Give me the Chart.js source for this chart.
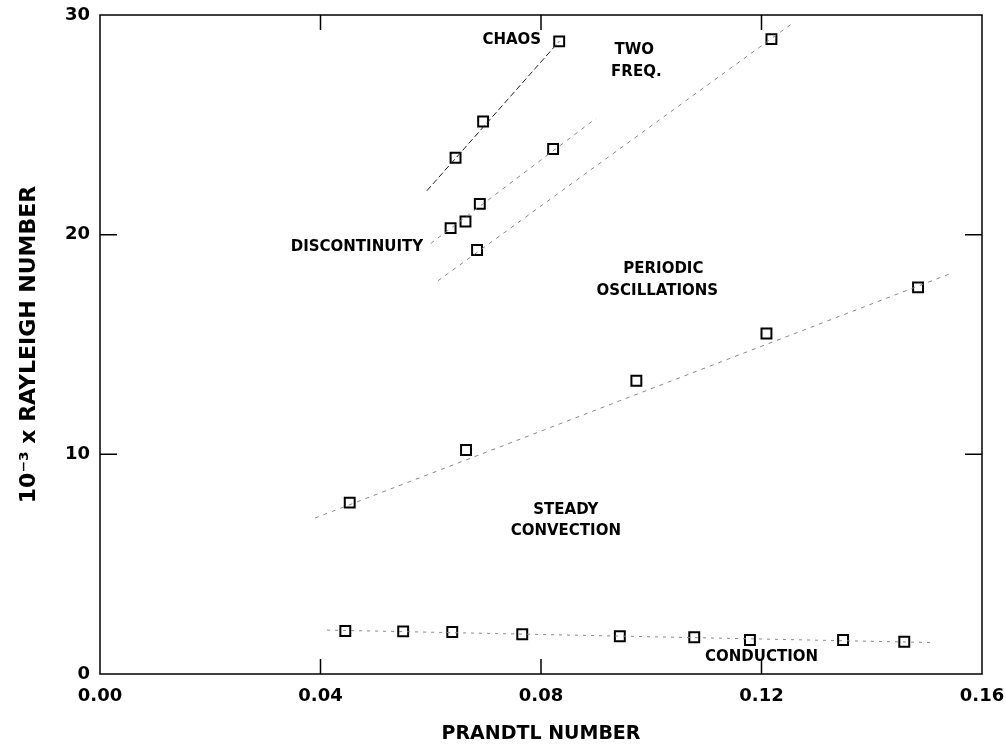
<!DOCTYPE html>
<html>
<head>
<meta charset="utf-8">
<script src="https://cdn.jsdelivr.net/npm/chart.js@4"></script>
<style>
  body { margin: 0; background: #fff; }
</style>
</head>
<body>
<canvas id="myChart" width="1006" height="747"></canvas>
<script>
// measured points (Prandtl number, 10^-3 x Rayleigh number)
let chaosX = [0.0645, 0.0695, 0.0833]
let chaosY = [23.5, 25.15, 28.8]

let discX = [0.0636, 0.0663, 0.0689, 0.0822]
let discY = [20.3, 20.6, 21.4, 23.9]

let twoFreqX = [0.0684, 0.1218]
let twoFreqY = [19.3, 28.9]

let periodicX = [0.0453, 0.0664, 0.0973, 0.1209, 0.1484]
let periodicY = [7.8, 10.2, 13.35, 15.5, 17.6]

let conductionX = [0.0445, 0.0550, 0.0639, 0.0766, 0.0943, 0.1078, 0.1179, 0.1348, 0.1459]
let conductionY = [1.96, 1.94, 1.91, 1.81, 1.72, 1.67, 1.55, 1.55, 1.47]

// ends of the boundary lines drawn through the points
let chaosLineX = [0.0593, 0.0833]
let chaosLineY = [22.0, 28.8]
let discLineX = [0.060, 0.090]
let discLineY = [19.6, 25.3]
let twoFreqLineX = [0.0613, 0.1255]
let twoFreqLineY = [17.9, 29.6]
let periodicLineX = [0.039, 0.154]
let periodicLineY = [7.1, 18.2]
let conductionLineX = [0.0412, 0.1513]
let conductionLineY = [2.0, 1.43]

// region labels
let labelText = ['CHAOS', 'TWO', 'FREQ.', 'DISCONTINUITY', 'PERIODIC', 'OSCILLATIONS', 'STEADY', 'CONVECTION', 'CONDUCTION']
let labelX = [0.0747, 0.0969, 0.0973, 0.0466, 0.1022, 0.1011, 0.0845, 0.0845, 0.1200]
let labelY = [28.84, 28.4, 27.4, 19.45, 18.45, 17.45, 7.47, 6.51, 0.77]

let xTicks = [0.04, 0.08, 0.12]
let yTicks = [10, 20]

let pts = (xs, ys) => xs.map((x, i) => ({ x: x, y: ys[i] }))

let lineSet = (xs, ys, color, dash) => ({
    data: pts(xs, ys),
    showLine: true,
    borderColor: color,
    borderWidth: 1,
    borderDash: dash,
    pointRadius: 0,
    fill: false
})

let markSet = (xs, ys) => ({
    data: pts(xs, ys),
    showLine: false,
    pointStyle: 'rect',
    pointRadius: 7,
    pointBorderWidth: 2,
    pointBorderColor: '#000',
    pointBackgroundColor: '#fff'
})

const tickFont = { family: 'DejaVu Sans', weight: 'bold', size: 18 }

// frame with inward ticks, like the original plot
const framePlugin = {
    id: 'frame',
    afterDraw(chart) {
        const ctx = chart.ctx
        const a = chart.chartArea
        const xs = chart.scales.x
        const ys = chart.scales.y
        ctx.save()
        ctx.strokeStyle = '#000'
        ctx.lineWidth = 1.5
        ctx.strokeRect(a.left, a.top, a.right - a.left, a.bottom - a.top)
        xTicks.forEach(v => {
            let p = xs.getPixelForValue(v)
            ctx.beginPath()
            ctx.moveTo(p, a.bottom); ctx.lineTo(p, a.bottom - 15)
            ctx.moveTo(p, a.top); ctx.lineTo(p, a.top + 15)
            ctx.stroke()
        })
        yTicks.forEach(v => {
            let p = ys.getPixelForValue(v)
            ctx.beginPath()
            ctx.moveTo(a.left, p); ctx.lineTo(a.left + 17, p)
            ctx.moveTo(a.right, p); ctx.lineTo(a.right - 17, p)
            ctx.stroke()
        })
        ctx.restore()
    }
}

const labelPlugin = {
    id: 'regionLabels',
    afterDatasetsDraw(chart) {
        const ctx = chart.ctx
        ctx.save()
        ctx.fillStyle = '#000'
        ctx.font = 'bold 15px "DejaVu Sans"'
        ctx.textAlign = 'center'
        ctx.textBaseline = 'middle'
        labelText.forEach((t, i) => {
            ctx.fillText(t, chart.scales.x.getPixelForValue(labelX[i]), chart.scales.y.getPixelForValue(labelY[i]))
        })
        ctx.restore()
    }
}

const ctx = document.getElementById('myChart')

const config = {
    type: 'scatter',
    data: {
        datasets: [
            lineSet(chaosLineX, chaosLineY, '#222', [6, 3]),
            lineSet(discLineX, discLineY, '#888', [4, 5]),
            lineSet(twoFreqLineX, twoFreqLineY, '#888', [4, 5]),
            lineSet(periodicLineX, periodicLineY, '#888', [4, 5]),
            lineSet(conductionLineX, conductionLineY, '#888', [3, 5]),
            markSet(chaosX, chaosY),
            markSet(discX, discY),
            markSet(twoFreqX, twoFreqY),
            markSet(periodicX, periodicY),
            markSet(conductionX, conductionY)
        ]
    },
    options: {
        responsive: false,
        animation: false,
        layout: { padding: { top: 15, right: 24, left: 0, bottom: 0 } },
        plugins: {
            legend: { display: false },
            tooltip: { enabled: false }
        },
        scales: {
            x: {
                type: 'linear',
                min: 0,
                max: 0.16,
                afterFit: s => {
                    s.height = 73
                    s.paddingLeft = 0
                    s.paddingRight = 0
                },
                ticks: {
                    stepSize: 0.04,
                    callback: v => v.toFixed(2),
                    font: tickFont,
                    color: '#000',
                    padding: 12,
                    maxRotation: 0
                },
                grid: { display: false, drawTicks: false },
                border: { display: false },
                title: {
                    display: true,
                    text: 'PRANDTL NUMBER',
                    color: '#000',
                    font: { family: 'DejaVu Sans', weight: 'bold', size: 19 },
                    padding: { top: 0, bottom: 2 }
                }
            },
            y: {
                min: 0,
                max: 30,
                afterFit: s => {
                    s.width = 100
                    s.paddingTop = 0
                    s.paddingBottom = 0
                },
                ticks: {
                    stepSize: 10,
                    font: tickFont,
                    color: '#000',
                    padding: 10
                },
                grid: { display: false, drawTicks: false },
                border: { display: false },
                title: {
                    display: true,
                    text: '10⁻³ x RAYLEIGH NUMBER',
                    color: '#000',
                    font: { family: 'DejaVu Sans', weight: 'bold', size: 22 },
                    padding: { top: 16, bottom: 0 }
                }
            }
        }
    },
    plugins: [framePlugin, labelPlugin]
}

const chart = new Chart(ctx, config)
</script>
</body>
</html>
